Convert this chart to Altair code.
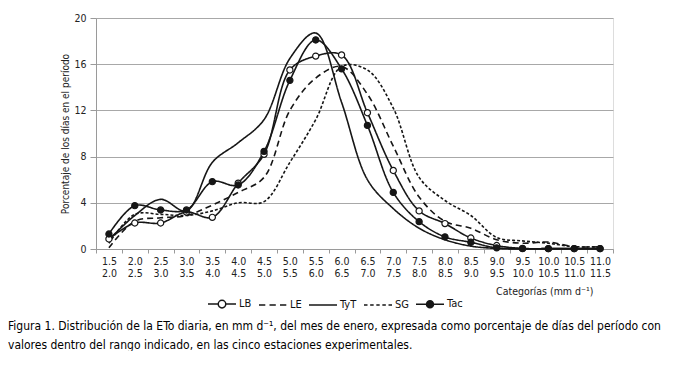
import altair as alt
import pandas as pd

# ---- data ----
cat_lo = ["1.5", "2.0", "2.5", "3.0", "3.5", "4.0", "4.5", "5.0", "5.5", "6.0",
          "6.5", "7.0", "7.5", "8.0", "8.5", "9.0", "9.5", "10.0", "10.5", "11.0"]
cat_hi = ["2.0", "2.5", "3.0", "3.5", "4.0", "4.5", "5.0", "5.5", "6.0", "6.5",
          "7.0", "7.5", "8.0", "8.5", "9.0", "9.5", "10.0", "10.5", "11.0", "11.5"]
series = ["LB", "LE", "TyT", "SG", "Tac"]

lb = [0.87, 2.25, 2.25, 3.2, 2.74, 5.7, 8.2, 15.5, 16.7, 16.8,
      11.8, 6.8, 3.3, 2.2, 0.95, 0.3, 0.05, 0.03, 0.03, 0.03]
le = [0.1, 2.4, 2.7, 2.9, 3.8, 4.9, 6.2, 12.0, 14.8, 15.8,
      13.4, 8.9, 4.5, 2.4, 1.8, 0.8, 0.5, 0.6, 0.2, 0.2]
tyt = [0.8, 2.9, 4.3, 3.3, 7.5, 9.2, 11.2, 16.5, 18.7, 12.7,
       6.0, 3.5, 1.8, 0.8, 0.25, 0.05, 0.0, 0.0, 0.0, 0.0]
sg = [0.5, 3.0, 3.0, 2.9, 3.3, 4.0, 4.1, 7.5, 11.2, 15.8,
      15.5, 12.2, 6.2, 4.2, 2.9, 1.0, 0.7, 0.5, 0.2, 0.2]
tac = [1.3, 3.75, 3.38, 3.38, 5.83, 5.54, 8.45, 14.6, 18.1, 15.6,
       10.7, 4.9, 2.37, 1.05, 0.58, 0.1, 0.03, 0.03, 0.03, 0.03]

y_ticks = [0, 4, 8, 12, 16, 20]

cats = [f"{a}|{b}" for a, b in zip(cat_lo, cat_hi)]
rows = []
for name, vals in zip(series, [lb, le, tyt, sg, tac]):
    for c, v in zip(cats, vals):
        rows.append({"cat": c, "serie": name, "leyenda": name, "val": v})
df = pd.DataFrame(rows)

FONT = "DejaVu Sans Condensed, Liberation Sans Narrow, sans-serif"
INK = "#161616"

x_enc = alt.X(
    "cat:N", sort=cats,
    scale=alt.Scale(type="band", paddingInner=0, paddingOuter=0),
    axis=alt.Axis(
        title="Categorías (mm d⁻¹)", labelAngle=0,
        labelExpr="split(datum.label, '|')",
        tickBand="extent", tickSize=4, tickColor="#9a9a9a",
        domainColor="#9a9a9a", labelPadding=3, labelFontSize=10.5,
        labelLineHeight=12, labelColor="#222", labelFont=FONT,
        titleFont=FONT, titleFontSize=10.5, titleFontWeight="normal",
        titleColor="#222", titleX=497, titleY=42, titleAlign="right",
        titleBaseline="middle", grid=False,
    ),
)
y_enc = alt.Y(
    "val:Q",
    scale=alt.Scale(domain=[0, 20], nice=False, zero=True),
    axis=alt.Axis(
        title="Porcentaje de los días en el período", values=y_ticks,
        grid=True, gridColor="#a8a8a8", gridWidth=1,
        tickSize=6, tickColor="#9a9a9a", domainColor="#9a9a9a",
        labelPadding=4, labelFontSize=10.5, labelColor="#222", labelFont=FONT,
        titleFont=FONT, titleFontSize=10, titleFontWeight="normal",
        titleColor="#222", titlePadding=3,
    ),
)

base = alt.Chart(df)

lines = base.mark_line(
    interpolate="catmull-rom", strokeWidth=1.6, color=INK
).encode(
    x=x_enc, y=y_enc,
    detail="serie:N",
    strokeDash=alt.StrokeDash(
        "serie:N",
        scale=alt.Scale(domain=series,
                        range=[[1, 0], [6, 4], [1, 0], [3, 2], [1, 0]]),
        legend=None,
    ),
)

points = base.transform_filter(
    "datum.serie == 'LB' || datum.serie == 'Tac'"
).mark_point(
    filled=True, size=38, stroke=INK, strokeWidth=1.2, opacity=1
).encode(
    x=x_enc, y=y_enc,
    fill=alt.Fill("serie:N",
                  scale=alt.Scale(domain=["LB", "Tac"], range=["white", INK]),
                  legend=None),
)

legend_paths = [
    "M-1,0H-0.27M0.27,0H1M-0.27,0A0.27,0.27,0,1,0,0.27,0A0.27,0.27,0,1,0,-0.27,0",
    "M-1,0H-0.55M-0.25,0H0.2M0.5,0H0.95",
    "M-1,0H1",
    "M-1,0H-0.75M-0.56,0H-0.31M-0.12,0H0.12M0.31,0H0.56M0.75,0H1",
    "M-1,0H1M-0.25,0A0.25,0.25,0,1,0,0.25,0A0.25,0.25,0,1,0,-0.25,0"
    "M-0.15,0A0.15,0.15,0,1,0,0.15,0A0.15,0.15,0,1,0,-0.15,0"
    "M-0.06,0A0.06,0.06,0,1,0,0.06,0A0.06,0.06,0,1,0,-0.06,0",
]

# legend-only layer: its shape scale uses a data-driven domain (sorted in the
# series order) so that it is not merged with the hidden strokeDash legend
legend_layer = base.mark_point(size=784, stroke=INK, strokeWidth=1.5,
                               strokeOpacity=0, fillOpacity=0).encode(
    x=x_enc, y=y_enc,
    shape=alt.Shape(
        "leyenda:N", sort=series,
        scale=alt.Scale(range=legend_paths),
        legend=alt.Legend(
            title=None, orient="none", direction="horizontal",
            legendX=111, legendY=271,
            symbolSize=784, symbolStrokeWidth=1.5, symbolStrokeColor=INK,
            symbolFillColor="transparent", symbolOpacity=1,
            labelFont=FONT, labelFontSize=11, labelColor="#111",
            labelOffset=2, columnPadding=4,
        ),
    ),
)

caption = [
    "Figura 1. Distribución de la ETo diaria, en mm d⁻¹, del mes de enero, expresada como porcentaje de días del período con",
    "valores dentro del rango indicado, en las cinco estaciones experimentales.",
]

chart = alt.layer(lines, points, legend_layer).properties(
    width=517, height=231,
    padding={"left": 0, "top": 5, "right": 0, "bottom": 0},
    title=alt.Title(
        text=caption, orient="bottom", anchor="start", frame="group",
        dx=-88, offset=10,
        font=FONT, fontSize=12, fontWeight="normal", color="#000",
        lineHeight=19,
    ),
).configure_view(stroke=None).configure(background="white")

chart.save("out.html", embed_options={"renderer": "svg", "actions": False})
